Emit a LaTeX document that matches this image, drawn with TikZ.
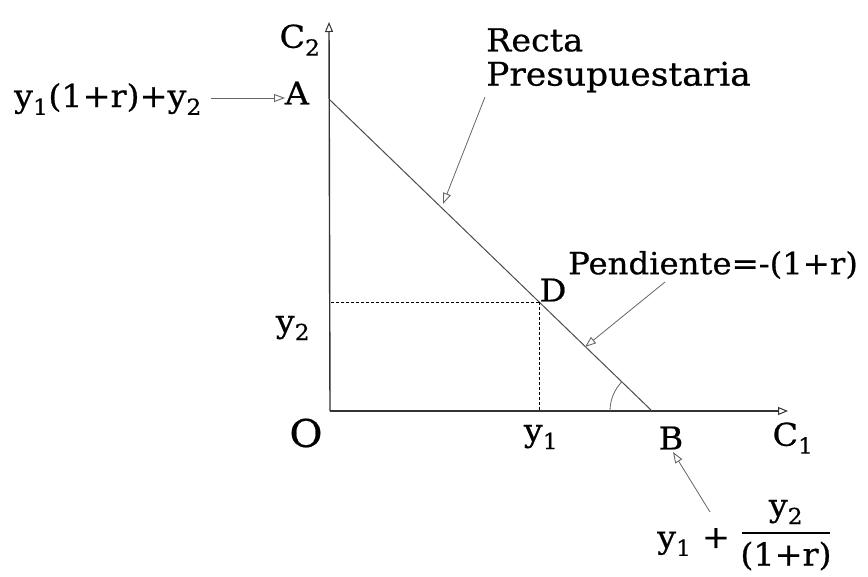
\documentclass[tikz,border=0pt]{standalone}
\usepackage{fontspec}
\setmainfont{DejaVu Serif}[FakeStretch=1.06,FakeBold=0.6]
\usetikzlibrary{arrows.meta}
\newcommand{\sbs}[1]{\textsubscript{#1}}
\begin{document}
\begin{tikzpicture}[x=1pt,y=-1pt,
  lbl/.style={inner sep=0pt,font=\fontsize{31.5}{35}\selectfont},
  axis/.style={draw=black!80,line width=1.4pt,-{Triangle[open,length=10pt,width=8pt,line width=1pt]}},
  budget/.style={draw=black!70,line width=1pt},
  pointer/.style={draw=black!60,line width=0.8pt,-{Triangle[open,length=11pt,width=8pt,line width=0.9pt]}},
  guide/.style={draw=black,line width=0.9pt,dash pattern=on 3pt off 2pt}]
\useasboundingbox (0,0) rectangle (868,576);
\fill[white] (0,0) rectangle (868,576);
% key points
\coordinate (O) at (330,411);
\coordinate (Ytop) at (329,22);
\coordinate (Xend) at (788,411);
\coordinate (A) at (330,100);
\coordinate (B) at (652,411);
\coordinate (D) at (539,302);
% axes
\draw[axis] (O) -- (Ytop);
\draw[axis] (O) -- (Xend);
% budget line
\draw[budget] (A) -- (B);
% dashed guides
\draw[guide] (D) -- (D -| O);
\draw[guide] (D) -- (D |- O);
% angle at B
\draw[draw=black!60,line width=0.8pt] (B) ++(180:42) arc (180:224:42);
% labels
\node[lbl] (c2) at (300,40) {C\sbs{2}};
\node[lbl] (Alab) at (297,93) {A};
\node[lbl,anchor=east] (inter) at (202,99) {y\sbs{1}(1+r)+y\sbs{2}};
\node[lbl,font=\fontsize{38}{40}\selectfont] (Olab) at (306,433) {O};
\node[lbl] (y1lab) at (541,437) {y\sbs{1}};
\node[lbl] (y2lab) at (293,328) {y\sbs{2}};
\node[lbl] (Dlab) at (553,290) {D};
\node[lbl] (Blab) at (671,438) {B};
\node[lbl] (c1lab) at (793,438) {C\sbs{1}};
\node[lbl,anchor=west] (recta) at (486,40) {Recta};
\node[lbl,anchor=west,font=\fontsize{32.5}{35}\selectfont] (presu) at (486,77) {Presupuestaria};
\node[lbl,anchor=west,font=\fontsize{30.5}{34}\selectfont] (pend) at (568,265) {Pendiente=-(1+r)};
% bottom label
\node[lbl,anchor=west] (ysum) at (657,542) {y\sbs{1} +};
\node[lbl] (num) at (786,512) {y\sbs{2}};
\node[lbl] (den) at (786,556) {(1+r)};
\draw[line width=2.4pt] (742,533) -- (830,533);
% pointers
\coordinate (p1s) at (485,97);
\coordinate (p1e) at (443,204);
\draw[pointer] (p1s) -- (p1e);
\coordinate (p2s) at (665,282);
\coordinate (p2e) at (585,347);
\draw[pointer] (p2s) -- (p2e);
\coordinate (p3s) at (710,512);
\coordinate (p3e) at (673,452);
\draw[pointer] (p3s) -- (p3e);
\coordinate (p4s) at (211,98);
\coordinate (p4e) at (285,98);
\draw[pointer] (p4s) -- (p4e);
\end{tikzpicture}
\end{document}
